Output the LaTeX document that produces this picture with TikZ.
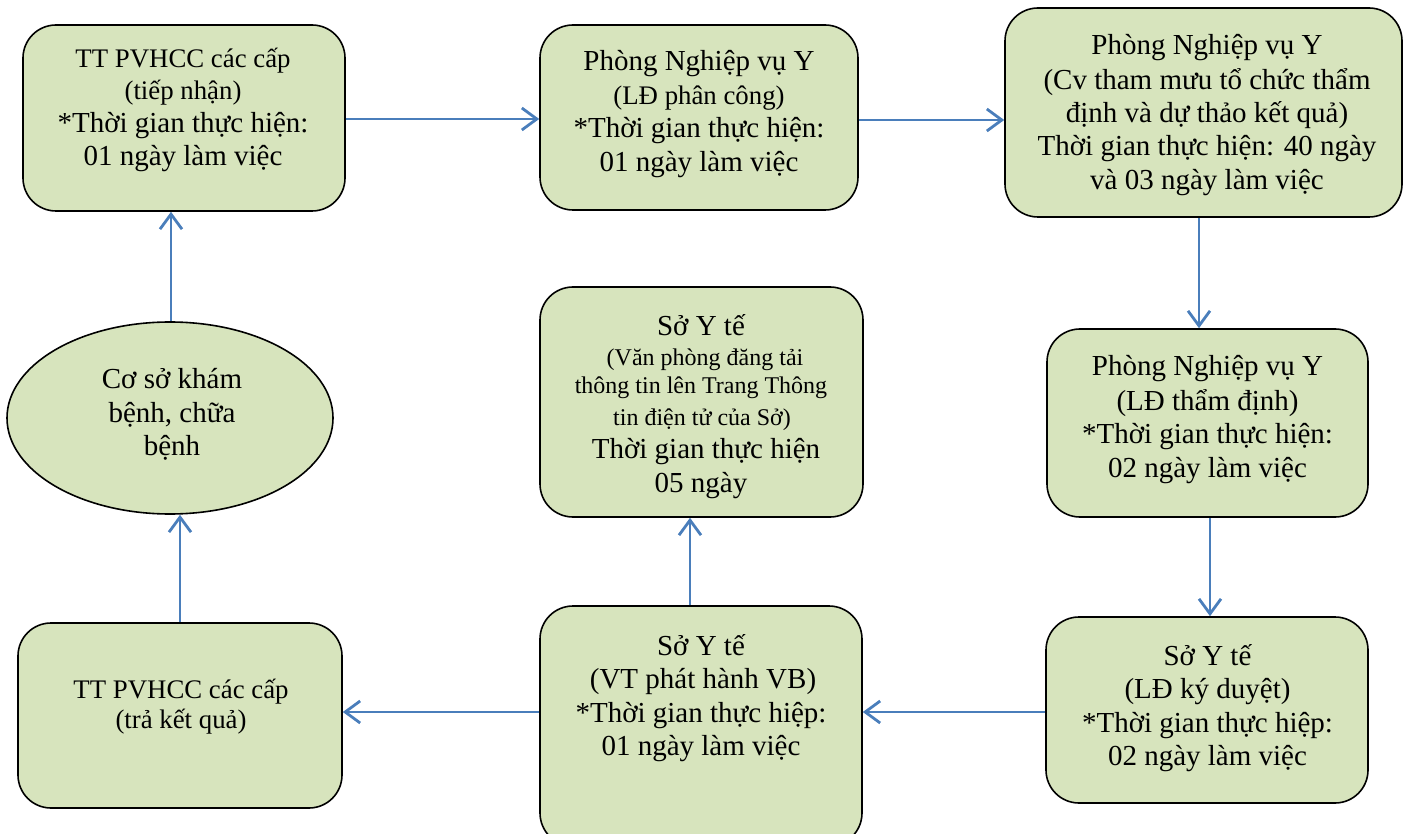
\documentclass[tikz,border=0pt]{standalone}
\usepackage{fontspec}
\setmainfont{Liberation Serif}
\usetikzlibrary{arrows.meta,shapes.geometric}
\definecolor{boxfill}{HTML}{D7E4BD}
\definecolor{arrowblue}{HTML}{4A7EBB}
\begin{document}
\begin{tikzpicture}[x=1pt,y=-1pt,
  box/.style={draw=black,line width=1.6pt,fill=boxfill,rounded corners=33pt,inner sep=0pt},
  oval/.style={ellipse,draw=black,line width=1.6pt,fill=boxfill,inner sep=0pt},
  ln/.style={anchor=base,inner sep=0pt,font=\fontsize{29}{33}\selectfont},
  lnm/.style={anchor=base,inner sep=0pt,font=\fontsize{26.8}{31}\selectfont},
  lns/.style={anchor=base,inner sep=0pt,font=\fontsize{24}{28}\selectfont},
  arr/.style={draw=arrowblue,line width=2.8pt,-{Straight Barb[length=15pt,width=22pt]}}]
\useasboundingbox (0,0) rectangle (1403,834);

% boxes
\node[box,minimum width=322pt,minimum height=186pt] (b1) at (184,118) {};
\node[box,minimum width=318pt,minimum height=185pt] (b2) at (699,117.5) {};
\node[box,minimum width=397pt,minimum height=209pt] (b3) at (1203.5,112.5) {};
\node[box,minimum width=321pt,minimum height=188pt] (b4) at (1207.5,423) {};
\node[box,minimum width=322pt,minimum height=186pt] (b5) at (1207,710) {};
\node[box,minimum width=322pt,minimum height=240pt] (b6) at (701,726) {};
\node[box,minimum width=324pt,minimum height=185pt] (b7) at (180,715.5) {};
\node[box,minimum width=323pt,minimum height=230pt] (b8) at (701.5,402) {};
\node[oval,minimum width=326pt,minimum height=192pt] (e) at (170,418) {};

% texts box 1
\node[lnm] (t1a) at (183,68) {TT PVHCC các cấp};
\node[lnm] (t1b) at (183,100) {(tiếp nhận)};
\node[ln] (t1c) at (183,133) {*Thời gian thực hiện:};
\node[ln] (t1d) at (183,166) {01 ngày làm việc};
% box 2
\node[ln] (t2a) at (699,71) {Phòng Nghiệp vụ Y};
\node[lnm] (t2b) at (699,105) {(LĐ phân công)};
\node[ln] (t2c) at (699,138) {*Thời gian thực hiện:};
\node[ln] (t2d) at (699,172) {01 ngày làm việc};
% box 3
\node[ln] (t3a) at (1207,55) {Phòng Nghiệp vụ Y};
\node[ln] (t3b) at (1207,90) {(Cv tham mưu tổ chức thẩm};
\node[ln] (t3c) at (1207,123) {định và dự thảo kết quả)};
\node[ln] (t3d) at (1207,156) {Thời gian thực hiện: 40 ngày};
\node[ln] (t3e) at (1207,190) {và 03 ngày làm việc};
% box 4
\node[ln] (t4a) at (1207.5,375) {Phòng Nghiệp vụ Y};
\node[ln] (t4b) at (1207.5,410) {(LĐ thẩm định)};
\node[ln] (t4c) at (1207.5,443) {*Thời gian thực hiện:};
\node[ln] (t4d) at (1207.5,477) {02 ngày làm việc};
% box 5
\node[ln] (t5a) at (1207.5,665) {Sở Y tế};
\node[ln] (t5b) at (1207.5,698) {(LĐ ký duyệt)};
\node[ln] (t5c) at (1207.5,732) {*Thời gian thực hiệp:};
\node[ln] (t5d) at (1207.5,765) {02 ngày làm việc};
% box 6
\node[ln] (t6a) at (701,655) {Sở Y tế};
\node[ln] (t6b) at (703,688) {(VT phát hành VB)};
\node[ln] (t6c) at (701,722) {*Thời gian thực hiệp:};
\node[ln] (t6d) at (701,755) {01 ngày làm việc};
% box 7
\node[lnm] (t7a) at (181,698) {TT PVHCC các cấp};
\node[lnm] (t7b) at (181,728) {(trả kết quả)};
% box 8
\node[ln] (t8a) at (701,335) {Sở Y tế};
\node[lns] (t8b) at (705,365) {(Văn phòng đăng tải};
\node[lns] (t8c) at (701,393) {thông tin lên Trang Thông};
\node[lns] (t8d) at (702,425) {tin điện tử của Sở)};
\node[ln] (t8e) at (706,458) {Thời gian thực hiện};
\node[ln] (t8f) at (701,492) {05 ngày};
% ellipse
\node[ln] (tea) at (172,388) {Cơ sở khám};
\node[ln] (teb) at (172,422) {bệnh, chữa};
\node[ln] (tec) at (172,455) {bệnh};

% connectors
\draw[arr] ([yshift=-1pt]b1.east) -- ([yshift=-1pt]b1.east -| b2.west);
\draw[arr] ([yshift=-2.5pt]b2.east) -- ([yshift=-2.5pt]b2.east -| b3.west);
\draw[arr] ([xshift=-4.5pt]b3.south) -- ([xshift=-4.5pt]b3.south |- b4.north);
\draw[arr] ([xshift=2.5pt]b4.south) -- ([xshift=2.5pt]b4.south |- b5.north);
\draw[arr] ([yshift=-2pt]b5.west) -- ([yshift=-2pt]b5.west -| b6.east);
\draw[arr] ([yshift=14pt]b6.west) -- ([yshift=14pt]b6.west -| b7.east);
\draw[arr] ([xshift=-11pt]b6.north) -- ([xshift=-11pt]b6.north |- b8.south);
\draw[arr] (b7.north) -- (b7.north |- e.south);
\draw[arr] ([xshift=1pt]e.north) -- ([xshift=1pt]e.north |- b1.south);
\end{tikzpicture}
\end{document}
